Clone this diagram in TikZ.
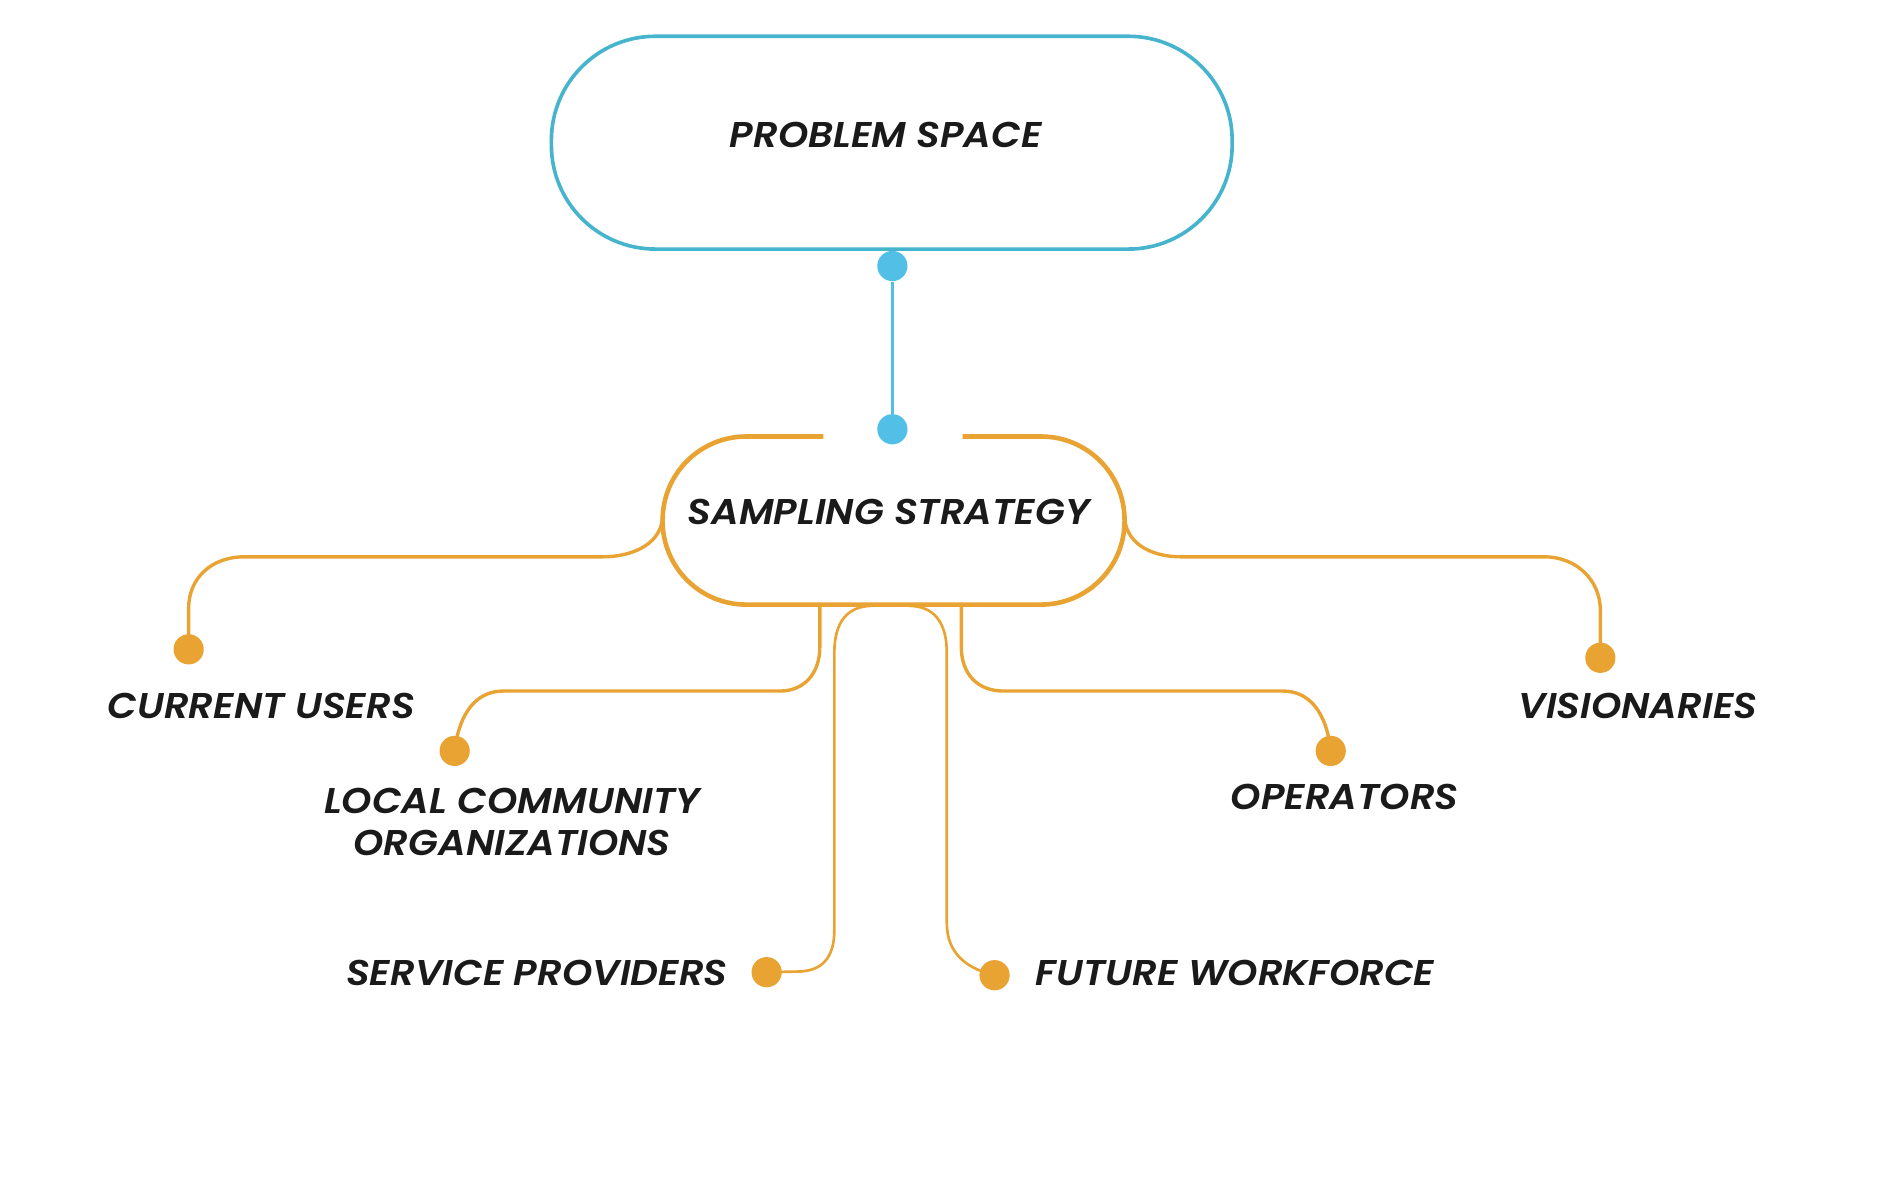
\documentclass[tikz,border=0pt]{standalone}
\usepackage{fontspec}
\setmainfont{Poppins}[FakeStretch=1.08, BoldItalicFont={Poppins SemiBold Italic}]
\usetikzlibrary{calc}
\definecolor{pblue}{HTML}{45B4CC}
\definecolor{dblue}{HTML}{52C0E6}
\definecolor{orng}{HTML}{E9A333}
\definecolor{ink}{HTML}{1A1A1A}
\begin{document}
\begin{tikzpicture}[x=0.5pt,y=-0.5pt,
  lbl/.style={font=\fontsize{14.8}{17.5}\selectfont\bfseries\itshape, text=ink, inner sep=0pt, align=center},
  bdot/.style={circle, fill=dblue, draw=none, minimum size=12.5pt, inner sep=0pt},
  odot/.style={circle, fill=orng, draw=none, minimum size=12.5pt, inner sep=0pt},
  br/.style={draw=orng, line width=1.4pt},
  brthin/.style={draw=orng, line width=1.1pt}]
\useasboundingbox (0,0) rectangle (1568,982.5);
% problem space box
\node[draw=pblue, line width=1.5pt, rounded corners=43pt, minimum width=281.5pt, minimum height=88pt, inner sep=0pt] (ps) at (737.5,118) {};
\node[lbl] (pst) at (732.5,111.5) {PROBLEM SPACE};
% blue connector
\node[bdot] (pd1) at (738,220) {};
\node[bdot] (pd2) at (738,355) {};
\draw[draw=dblue, line width=1.4pt] (pd1) -- (pd2);
% sampling strategy box (gap at top)
\node[minimum width=191pt, minimum height=69.5pt, inner sep=0pt] (ss) at (739,430.5) {};
\draw[draw=orng, line width=1.9pt, rounded corners=34.5pt] (681,361) -- (548,361) -- (548,500) -- (930,500) -- (930,361) -- (796,361);
\node[lbl] (sst) at (735,423.5) {SAMPLING STRATEGY};
% leaf dots
\node[odot] (cu) at (156,537) {};
\node[odot] (lc) at (376,621) {};
\node[odot] (sp) at (634,804) {};
\node[odot] (fw) at (822.5,806.5) {};
\node[odot] (op) at (1100.5,621) {};
\node[odot] (vi) at (1323.5,544) {};
% connector start points on the sampling box
\coordinate (sW) at (548,426);
\coordinate (sE) at (930,426);
\coordinate (sB1) at (678,500);
\coordinate (sB2) at (722,501);
\coordinate (sB3) at (751,501);
\coordinate (sB4) at (795,500);
% branches
\draw[br] (sW) .. controls (548,448) and (526,460.5) .. (498,460.5) -- (202,460.5) .. controls (175,460.5) and (156,478) .. (156,503) -- (cu.center);
\draw[br] (sE) .. controls (930,448) and (950,460.5) .. (977,460.5) -- (1277,460.5) .. controls (1304,460.5) and (1323.5,480) .. (1323.5,505) -- (vi.center);
\draw[br] (sB1) -- (678,535) .. controls (678,557) and (665,571.5) .. (645,571.5) -- (416,571.5) .. controls (395,571.5) and (380,588) .. (lc.center);
\draw[br] (sB4) -- (795,535) .. controls (795,557) and (808,571.5) .. (830,571.5) -- (1061,571.5) .. controls (1082,571.5) and (1097,588) .. (op.center);
\draw[brthin] (sB2) -- (sB3);
\draw[brthin] (sB2) .. controls (701,501) and (690,514) .. (690,540) -- (690,769) .. controls (690,792) and (680,803.5) .. (659,803.5) -- (sp.center);
\draw[brthin] (sB3) .. controls (772,501) and (783,514) .. (783,540) -- (783,763) .. controls (783,785) and (795,800) .. (fw.center);
% labels
\node[lbl] (cut) at (216,584) {CURRENT USERS};
\node[lbl] (lct) at (423.5,679.5) {LOCAL COMMUNITY\\ORGANIZATIONS};
\node[lbl] (spt) at (444,805) {SERVICE PROVIDERS};
\node[lbl] (fwt) at (1021.5,805) {FUTURE WORKFORCE};
\node[lbl] (opt) at (1112,659) {OPERATORS};
\node[lbl] (vit) at (1354.5,584) {VISIONARIES};
\end{tikzpicture}
\end{document}
